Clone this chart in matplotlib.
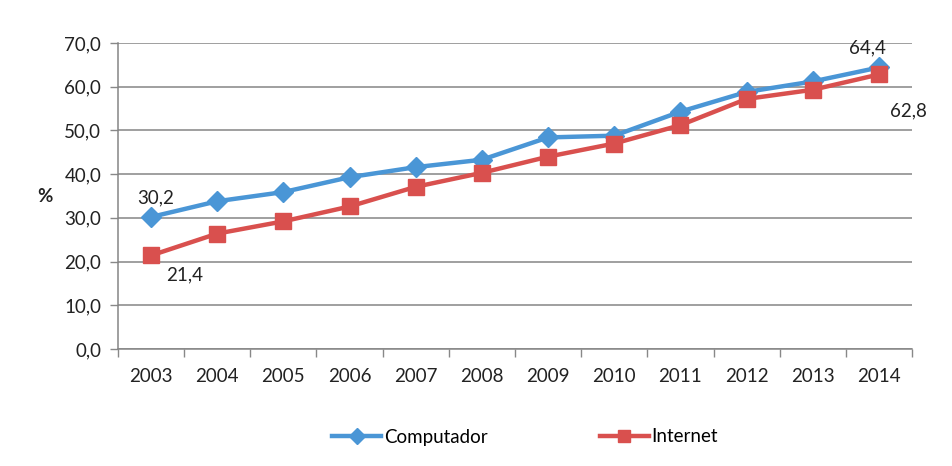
import matplotlib
matplotlib.use("Agg")
import matplotlib.pyplot as plt
from matplotlib.ticker import FixedLocator, FuncFormatter

years = ["2003", "2004", "2005", "2006", "2007", "2008", "2009", "2010", "2011", "2012", "2013", "2014"]
computador = [30.2, 33.8, 35.9, 39.3, 41.6, 43.3, 48.4, 48.8, 54.3, 58.8, 61.2, 64.4]
internet = [21.4, 26.4, 29.2, 32.6, 37.1, 40.3, 44.0, 47.0, 51.2, 57.2, 59.3, 62.8]
yticks = [0, 10, 20, 30, 40, 50, 60, 70]

plt.rcParams['font.family'] = ['Lato', 'DejaVu Sans']
FS = 13.5
TXT = "#222222"

fig = plt.figure(figsize=(9.52, 4.66), dpi=100)
ax = fig.add_axes([118/952, 1 - 349/466, (912-118)/952, (349-43)/466])

x = list(range(len(years)))
blue = "#4A96D6"
red = "#D9504E"
ax.plot(x, computador, color=blue, lw=3.2, marker="D", markersize=10, label="Computador", zorder=3)
ax.plot(x, internet, color=red, lw=3.2, marker="s", markersize=11, label="Internet", zorder=3)

ax.set_xlim(-0.5, len(years) - 0.5)
ax.set_ylim(0, 70)
ax.yaxis.set_major_locator(FixedLocator(yticks))
ax.yaxis.set_major_formatter(FuncFormatter(lambda v, p: f"{v:.1f}".replace(".", ",")))
ax.set_xticks(x)
ax.set_xticklabels(years)
ax.set_xticks([i - 0.5 for i in range(len(years) + 1)], minor=True)
ax.tick_params(axis="x", which="major", length=0, pad=14, labelsize=FS, colors=TXT)
ax.tick_params(axis="x", which="minor", length=6, color="#888888", width=1)
ax.tick_params(axis="y", which="major", length=6, color="#888888", width=1, pad=6, labelsize=FS, labelcolor=TXT)

ax.grid(axis="y", color="#858585", lw=1.1)
ax.set_axisbelow(True)
for s in ["top", "right"]:
    ax.spines[s].set_visible(False)
ax.spines["left"].set_color("#858585")
ax.spines["bottom"].set_color("#858585")
ax.spines["left"].set_linewidth(1.1)
ax.spines["bottom"].set_linewidth(1.1)

fig.text(45/952, 1 - 196/466, "%", fontsize=FS, fontweight="bold", ha="center", va="center", color=TXT)

def fmt(v):
    return f"{v:.1f}".replace(".", ",")

ax.annotate(fmt(computador[0]), (0, computador[0]), xytext=(3, 14), textcoords="offset points",
            ha="center", va="center", fontsize=FS, color=TXT)
ax.annotate(fmt(internet[0]), (0, internet[0]), xytext=(24, -14), textcoords="offset points",
            ha="center", va="center", fontsize=FS, color=TXT)
ax.annotate(fmt(computador[-1]), (11, computador[-1]), xytext=(-8, 14), textcoords="offset points",
            ha="center", va="center", fontsize=FS, color=TXT)
ax.annotate(fmt(internet[-1]), (11, internet[-1]), xytext=(21, -26), textcoords="offset points",
            ha="center", va="center", fontsize=FS, color=TXT)

fig.legend(loc="center", bbox_to_anchor=(525/952, 1 - 437/466), ncol=2, frameon=False,
           fontsize=FS, handlelength=2.6, columnspacing=6, handletextpad=0.15,
           markerscale=0.8)

fig.savefig("out.png", dpi=100, facecolor="white")
